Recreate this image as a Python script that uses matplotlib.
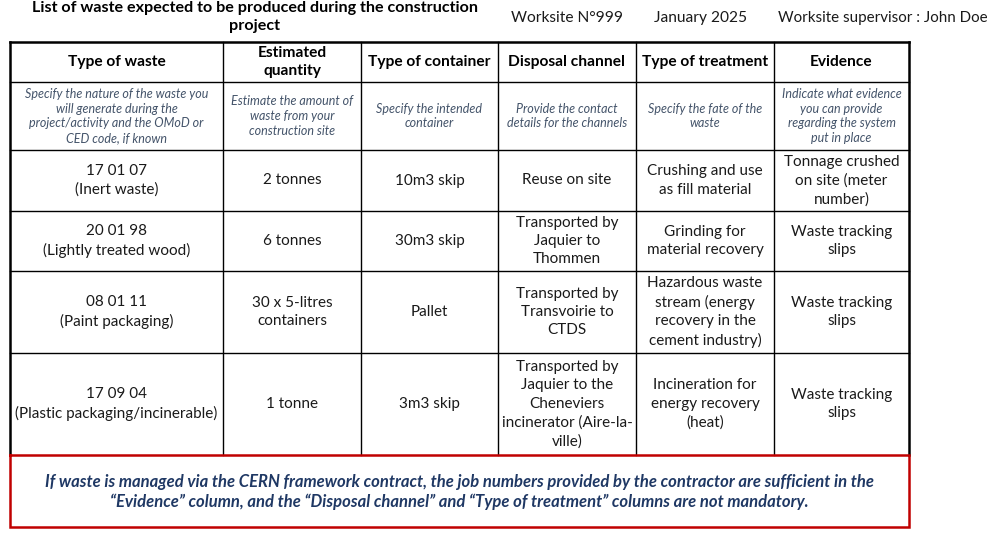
import matplotlib.pyplot as plt

# Table content
headers = ['Type of waste', 'Estimated\nquantity', 'Type of container',
           'Disposal channel', 'Type of treatment', 'Evidence']
hints = [
    'Specify the nature of the waste you\nwill generate during the\nproject/activity and the OMoD or\nCED code, if known',
    'Estimate the amount of\nwaste from your\nconstruction site',
    'Specify the intended\ncontainer',
    'Provide the contact\ndetails for the channels',
    'Specify the fate of the\nwaste',
    'Indicate what evidence\nyou can provide\nregarding the system\nput in place',
]
waste_type = ['17 01 07\n(Inert waste)', '20 01 98\n(Lightly treated wood)',
              '08 01 11\n(Paint packaging)', '17 09 04\n(Plastic packaging/incinerable)']
quantity = ['2 tonnes', '6 tonnes', '30 x 5-litres\ncontainers', '1 tonne']
container = ['10m3 skip', '30m3 skip', 'Pallet', '3m3 skip']
channel = ['Reuse on site', 'Transported by\nJaquier to\nThommen',
           'Transported by\nTransvoirie to\nCTDS',
           'Transported by\nJaquier to the\nCheneviers\nincinerator (Aire-la-\nville)']
treatment = ['Crushing and use\nas fill material', 'Grinding for\nmaterial recovery',
             'Hazardous waste\nstream (energy\nrecovery in the\ncement industry)',
             'Incineration for\nenergy recovery\n(heat)']
evidence = ['Tonnage crushed\non site (meter\nnumber)', 'Waste tracking\nslips',
            'Waste tracking\nslips', 'Waste tracking\nslips']

title = 'List of waste expected to be produced during the construction\nproject'
worksite = 'Worksite N°999'
date = 'January 2025'
supervisor = 'Worksite supervisor : John Doe'
note = ('If waste is managed via the CERN framework contract, the job numbers provided by the contractor are sufficient in the\n'
        '\u201cEvidence\u201d column, and the \u201cDisposal channel\u201d and \u201cType of treatment\u201d columns are not mandatory.')

# Layout (pixels)
W, H = 993, 541
col_x = [10, 223, 361, 498, 636, 774, 909]
row_y = [42, 82, 150, 211, 271, 353, 455]
note_bottom = 527

TEXT = '#1a1a1a'
HINT = '#44546a'
NOTE = '#1f3864'
RED = '#c00000'

plt.rcParams['font.family'] = ['Lato', 'DejaVu Sans']

fig = plt.figure(figsize=(W / 100, H / 100), dpi=100)
ax = fig.add_axes([0, 0, 1, 1])
ax.set_xlim(0, W)
ax.set_ylim(H, 0)
ax.axis('off')

# grid lines
for y in row_y[1:-1]:
    ax.plot([col_x[0], col_x[-1]], [y, y], color='black', lw=1.0)
for x in col_x[1:-1]:
    ax.plot([x, x], [row_y[0], row_y[-1]], color='black', lw=1.0)
ax.plot([col_x[0], col_x[-1]], [row_y[0], row_y[0]], color='black', lw=1.8)
ax.plot([col_x[0], col_x[0]], [row_y[0], row_y[-1]], color='black', lw=1.8)
ax.plot([col_x[-1], col_x[-1]], [row_y[0], row_y[-1]], color='black', lw=1.8)

# red note box
ax.plot([col_x[0], col_x[-1], col_x[-1], col_x[0], col_x[0]],
        [row_y[-1], row_y[-1], note_bottom, note_bottom, row_y[-1]],
        color=RED, lw=1.8, solid_joinstyle='miter')


def cx(i):
    return (col_x[i] + col_x[i + 1]) / 2


def cy(j):
    return (row_y[j] + row_y[j + 1]) / 2


for i, h in enumerate(headers):
    ax.text(cx(i), cy(0), h, ha='center', va='center', fontsize=11.2,
            fontweight='bold', color='black', linespacing=1.4)
for i, h in enumerate(hints):
    ax.text(cx(i), cy(1), h, ha='center', va='center', fontsize=9.0,
            style='italic', color=HINT, linespacing=1.26)

columns = [waste_type, quantity, container, channel, treatment, evidence]
for i, col in enumerate(columns):
    for j, val in enumerate(col):
        ax.text(cx(i), cy(j + 2), val, ha='center', va='center', fontsize=11,
                color=TEXT, linespacing=1.4)

# header texts above the table
ax.text(255, 17, title, ha='center', va='center', fontsize=11.6,
        fontweight='bold', color='black', linespacing=1.35)
ax.text(567, 18, worksite, ha='center', va='center', fontsize=11.2, color=TEXT)
ax.text(701, 18, date, ha='center', va='center', fontsize=11.2, color=TEXT)
ax.text(883, 18, supervisor, ha='center', va='center', fontsize=10.9, color=TEXT)

ax.text((col_x[0] + col_x[-1]) / 2, (row_y[-1] + note_bottom) / 2 + 1, note,
        ha='center', va='center', fontsize=12, fontweight='bold',
        style='italic', color=NOTE, linespacing=1.3)

fig.savefig('out.png', dpi=100, facecolor='white')
